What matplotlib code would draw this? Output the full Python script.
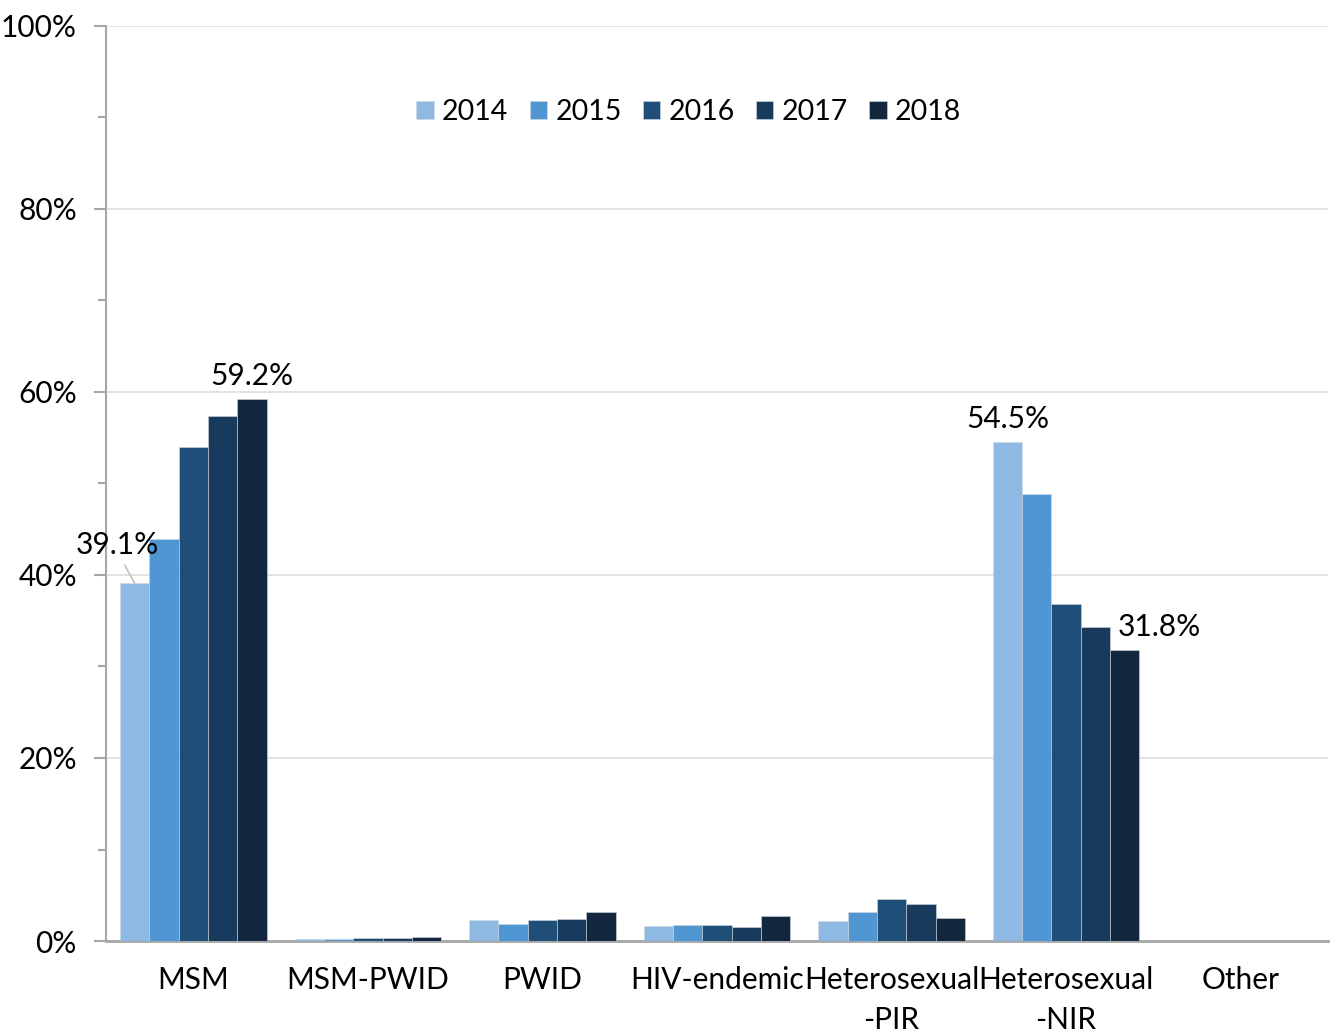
import numpy as np
import matplotlib
matplotlib.use("Agg")
from matplotlib import pyplot as plt

plt.rcParams['font.family'] = ['Lato', 'DejaVu Sans']

categories = ['MSM', 'MSM-PWID', 'PWID', 'HIV-endemic', 'Heterosexual\n-PIR',
              'Heterosexual\n-NIR', 'Other']
years = ['2014', '2015', '2016', '2017', '2018']

# percent of notifications by exposure category, one list per year
pct_2014 = [39.1, 0.2, 2.3, 1.6, 2.2, 54.5, 0.0]
pct_2015 = [43.9, 0.2, 1.9, 1.8, 3.2, 48.8, 0.0]
pct_2016 = [54.0, 0.35, 2.3, 1.8, 4.6, 36.8, 0.0]
pct_2017 = [57.4, 0.35, 2.4, 1.5, 4.0, 34.3, 0.0]
pct_2018 = [59.2, 0.45, 3.2, 2.7, 2.5, 31.8, 0.0]
series = [pct_2014, pct_2015, pct_2016, pct_2017, pct_2018]

colors = ['#8DB9E2', '#5096D3', '#1F4E79', '#183A5C', '#12263E']

fs = 21.5
fig = plt.figure(figsize=(13.3, 10.3), dpi=100)
ax = fig.add_axes([0.0797, 0.0864, 0.9188, 0.8884])

x = np.arange(len(categories))
w = 0.168
for i, (vals, col, yr) in enumerate(zip(series, colors, years)):
    ax.bar(x + (i - 2) * w, vals, w, color=col, label=yr,
           edgecolor='#d0d8e0', linewidth=0.4, zorder=3)

ax.set_xlim(-0.5, len(categories) - 0.5)
ax.set_ylim(0, 100)
ax.set_yticks(np.arange(0, 101, 20))
ax.set_yticks(np.arange(10, 100, 20), minor=True)
ax.set_yticklabels(['%d%%' % v for v in range(0, 101, 20)])
ax.grid(axis='y', which='major', color='#dedede', linewidth=1.2, zorder=0)

for s in ['top', 'right']:
    ax.spines[s].set_visible(False)
ax.spines['left'].set_color('#a6a6a6')
ax.spines['left'].set_linewidth(1.5)
ax.spines['bottom'].set_color('#a6a6a6')
ax.spines['bottom'].set_linewidth(2)
ax.tick_params(axis='y', which='major', length=9, width=1.5, color='#a6a6a6',
               labelsize=fs, pad=12)
ax.tick_params(axis='y', which='minor', length=6, width=1.5, color='#a6a6a6')
ax.tick_params(axis='x', length=0, labelsize=fs, pad=18)
ax.set_xticks(x)
ax.set_xticklabels(categories, linespacing=1.5, va='top')

# value labels
ax.text(x[0] + 2 * w, pct_2018[0] + 1.0, '%.1f%%' % pct_2018[0], ha='center',
        va='bottom', fontsize=fs)
ax.text(x[5] - 2 * w, pct_2014[5] + 1.0, '%.1f%%' % pct_2014[5], ha='center',
        va='bottom', fontsize=fs)
ax.text(x[5] + 2 * w + 0.2, pct_2018[5] + 1.0, '%.1f%%' % pct_2018[5],
        ha='center', va='bottom', fontsize=fs)
ax.annotate('%.1f%%' % pct_2014[0], xy=(x[0] - 2 * w, pct_2014[0]),
            xytext=(-0.437, 43.3), ha='center', va='center', fontsize=fs,
            arrowprops=dict(arrowstyle='-', color='#c0c0c0', lw=1.2,
                            relpos=(0.55, 0.0), shrinkA=3, shrinkB=0))

ax.legend(loc='upper center', bbox_to_anchor=(0.477, 0.948), ncol=5,
          frameon=False, fontsize=20.5, handlelength=0.6, handleheight=0.6,
          handletextpad=0.3, columnspacing=0.75)

fig.savefig('out.png', dpi=100)
